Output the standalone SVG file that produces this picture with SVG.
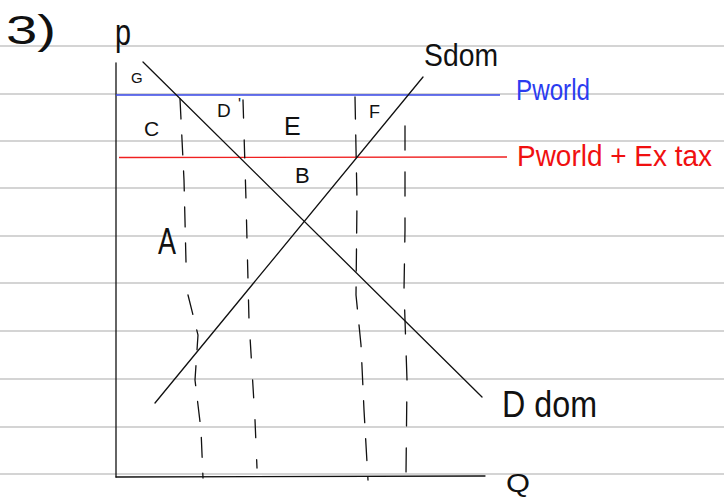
<svg xmlns="http://www.w3.org/2000/svg" width="724" height="497" viewBox="0 0 724 497">
<style>
.rule{stroke:#d4d4d4;stroke-width:2}
.ink{stroke:#111;stroke-width:1.3;fill:none;stroke-linecap:round}
.dash{stroke:#111;stroke-width:1.3;fill:none;stroke-linecap:round;stroke-dasharray:20 16}
.t{font-family:"Liberation Sans",Arial,sans-serif;fill:#111}
.blue{fill:#2a3cf0}
.red{fill:#f01010}
</style>
<rect width="724" height="497" fill="#fff"/>
<g id="paper">
<line class="rule" x1="0" y1="46" x2="724" y2="46"/>
<line class="rule" x1="0" y1="94" x2="724" y2="94"/>
<line class="rule" x1="0" y1="141" x2="724" y2="141"/>
<line class="rule" x1="0" y1="188" x2="724" y2="188"/>
<line class="rule" x1="0" y1="236" x2="724" y2="236"/>
<line class="rule" x1="0" y1="283" x2="724" y2="283"/>
<line class="rule" x1="0" y1="331" x2="724" y2="331"/>
<line class="rule" x1="0" y1="379" x2="724" y2="379"/>
<line class="rule" x1="0" y1="427" x2="724" y2="427"/>
<line class="rule" x1="0" y1="474" x2="724" y2="474"/>
</g>
<g id="axes">
<line class="ink" x1="116" y1="63" x2="116" y2="477"/>
<line class="ink" x1="116" y1="477" x2="485" y2="476"/>
</g>
<g id="connectors">
<line id="pworld-line" x1="116" y1="95" x2="500" y2="95" stroke="#3848e8" stroke-width="1.3"/>
<line id="ptax-line" x1="119" y1="157.5" x2="507" y2="157" stroke="#f02020" stroke-width="1.3"/>
<line id="demand" class="ink" x1="143" y1="62" x2="482" y2="397"/>
<line id="supply" class="ink" x1="155" y1="403" x2="423" y2="77"/>
<path id="dash1" class="dash" d="M180,99 L184,180 L186,262 M188,295 L198,335 L195,380 L201,430 L203,478"/>
<path id="dash2" class="dash" style="stroke-dasharray:18 22" d="M243,100 L246,200 L249,320 L255,420 L257,468"/>
<path id="dash3" class="dash" style="stroke-dasharray:22 16" d="M355,97 L357,200 L356,295 L361,345 L364,410 L368,480"/>
<path id="dash4" class="dash" style="stroke-dasharray:24 22" d="M405,126 L405,230 L404,290 L407,380 L406,474"/>
</g>
<g id="labels">
<text id="q-num" class="t" x="6" y="44" font-size="40" textLength="50" lengthAdjust="spacingAndGlyphs">3)</text>
<text id="p-axis" class="t" x="115" y="45" font-size="36" textLength="16" lengthAdjust="spacingAndGlyphs">p</text>
<text id="q-axis" class="t" x="506" y="492" font-size="26" textLength="24" lengthAdjust="spacingAndGlyphs">Q</text>
<text id="s-dom" class="t" x="424" y="66" font-size="32" textLength="74" lengthAdjust="spacingAndGlyphs">Sdom</text>
<text id="d-dom" class="t" x="502" y="417" font-size="36" textLength="95" lengthAdjust="spacingAndGlyphs">D dom</text>
<text id="pworld" class="t blue" x="516" y="100" font-size="30" textLength="74" lengthAdjust="spacingAndGlyphs">Pworld</text>
<text id="pworld-tax" class="t red" x="517" y="166" font-size="29" textLength="195" lengthAdjust="spacingAndGlyphs">Pworld + Ex tax</text>
<text id="G" class="t" x="131" y="83" font-size="15">G</text>
<text id="C" class="t" x="144" y="136" font-size="21">C</text>
<text id="D" class="t" x="217" y="117" font-size="19">D</text>
<text id="Dtick" class="t" x="238" y="110" font-size="16">'</text>
<text id="E" class="t" x="284" y="135" font-size="25">E</text>
<text id="F" class="t" x="369" y="118" font-size="18">F</text>
<text id="B" class="t" x="295" y="183" font-size="22">B</text>
<text id="A" class="t" x="158" y="254" font-size="36" textLength="18" lengthAdjust="spacingAndGlyphs">A</text>
</g>
</svg>
